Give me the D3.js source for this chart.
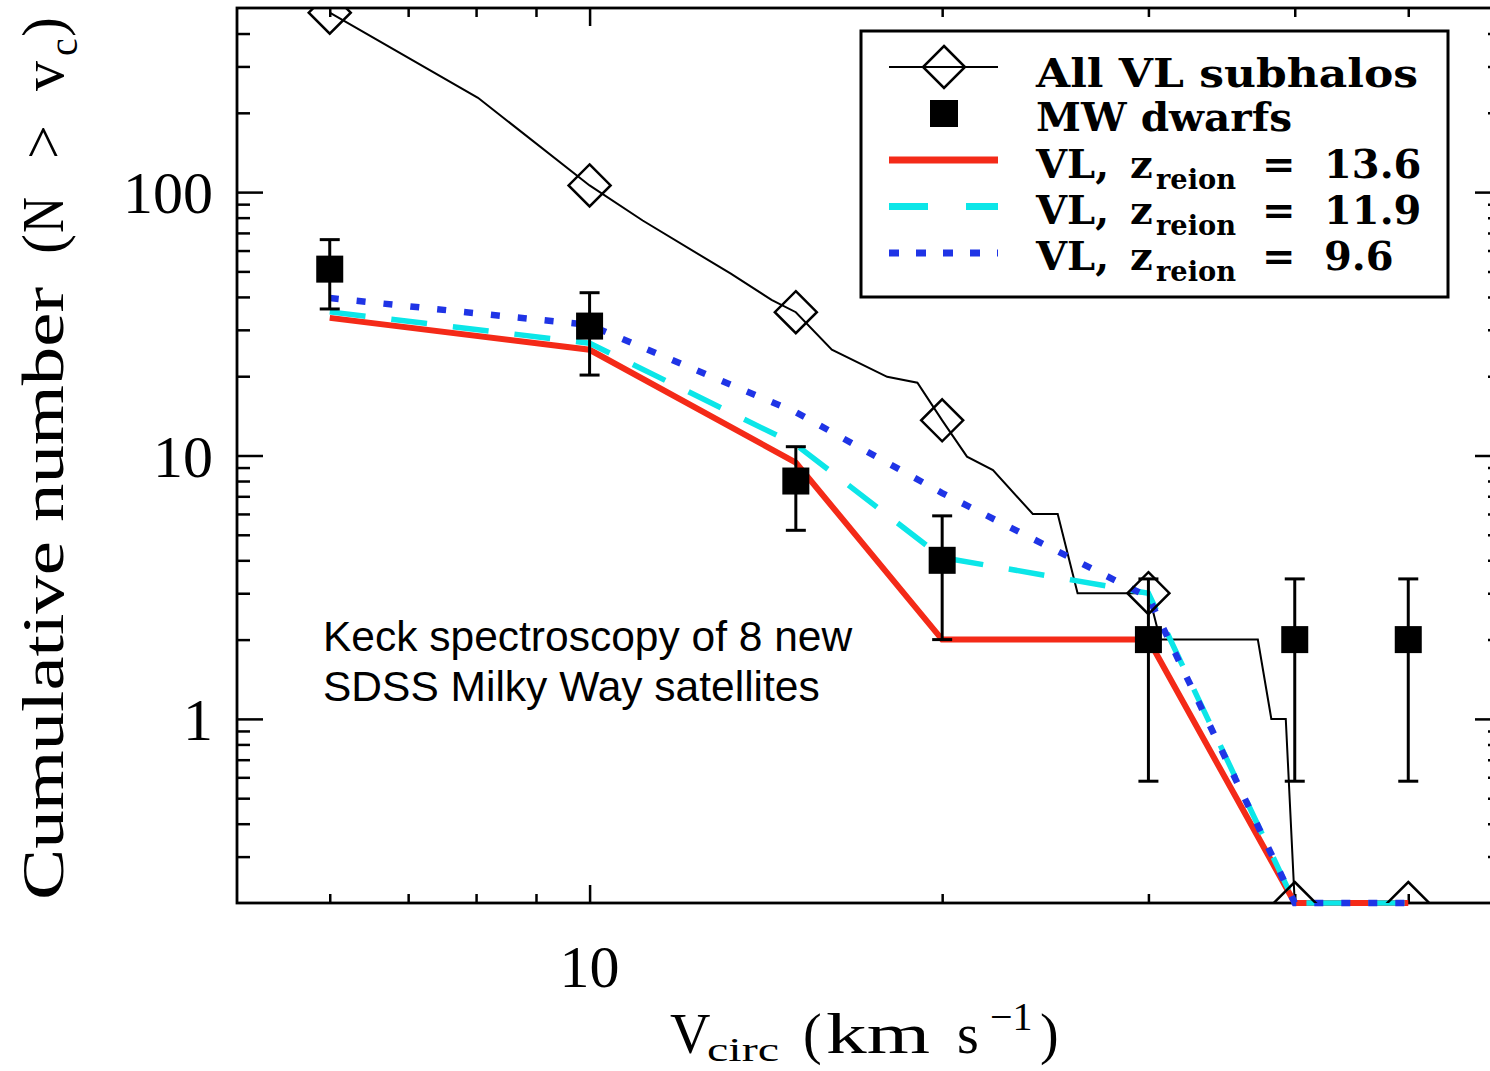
<!DOCTYPE html>
<html>
<head>
<meta charset="utf-8">
<script src="https://cdn.jsdelivr.net/npm/d3@7"></script>
<style>
  body { margin: 0; background: #fff; }
  svg { display: block; }
</style>
</head>
<body>
<svg id="chart"></svg>
<script>
// values
const vcirc = [6, 10, 15, 20, 30, 40, 50];
const allSubhalos = [480, 106, 35, 13.6, 3, 0, 0];
const subhaloCurveV = [6, 8.03, 10, 11.1, 13.2, 14.3, 15, 16.1, 17.95, 19.05, 20, 21, 22.1, 23.9, 25.1, 26.1, 28.7, 30, 30.7, 37.2, 38.2, 39.3, 40, 50];
const subhaloCurveN = [480, 228, 106, 78, 49, 39, 35, 25.2, 19.9, 18.9, 13.6, 9.9, 8.8, 6, 6, 3, 3, 3, 2, 2, 1, 1, 0, 0];
const mwDwarfs = [51, 31, 8, 4, 2, 2, 2];
const mwUpper = [66, 41.5, 10.8, 5.9, 3.4, 3.4, 3.4];
const mwLower = [36, 20.2, 5.2, 2.0, 0.58, 0.58, 0.58];
const zreion136 = [33.3, 25.2, 9.4, 2, 2, 0, 0];
const zreion119 = [35.1, 26.7, 11, 4.1, 3.0, 0, 0];
const zreion96 = [39.6, 31.3, 14.6, 7.2, 2.9, 0, 0];
const xTickLabels = [10];
const yTickLabels = [1, 10, 100];
const zreionLabels = ["13.6", "11.9", "9.6"];

const width = 1490, height = 1071;
const plotL = 237, plotR = 1501, plotT = 8, plotB = 903;

const svg = d3.select('#chart').attr('width', width).attr('height', height);

const x = d3.scaleLog().domain([5, 60]).range([plotL, plotR]);
const y = d3.scaleLog().domain([0.2, 500]).range([plotB, plotT]);
const yc = n => y(Math.max(n, 0.2)); // zero counts sit on the bottom axis

const serif = '"Liberation Serif", "Times New Roman", serif';
const legendFont = '"DejaVu Serif", serif';

// clip paths
const defs = svg.append('defs');
defs.append('clipPath').attr('id', 'clipLines')
  .append('rect').attr('x', plotL).attr('y', plotT).attr('width', plotR - plotL).attr('height', plotB - plotT + 4);
defs.append('clipPath').attr('id', 'clipMarks')
  .append('rect').attr('x', plotL).attr('y', plotT).attr('width', plotR - plotL).attr('height', plotB - plotT);

// ticks
const xMajor = [10];
const xMinor = x.ticks().filter(d => d !== 10 && d !== 5 && d !== 60);
const yMajor = [1, 10, 100];
const yMinor = y.ticks().filter(d => !yMajor.includes(d) && d > 0.2 && d < 500);

const tickStyle = g => {
  g.select('.domain').remove();
  g.selectAll('.tick line').attr('stroke', '#000').attr('stroke-width', 2.5);
  g.selectAll('.tick text').remove();
};

svg.append('g').attr('transform', `translate(0,${plotB})`)
  .call(d3.axisTop(x).tickValues(xMinor).tickSize(9)).call(tickStyle);
svg.append('g').attr('transform', `translate(0,${plotB})`)
  .call(d3.axisTop(x).tickValues(xMajor).tickSize(18)).call(tickStyle);
svg.append('g').attr('transform', `translate(0,${plotT})`)
  .call(d3.axisBottom(x).tickValues(xMinor).tickSize(9)).call(tickStyle);
svg.append('g').attr('transform', `translate(0,${plotT})`)
  .call(d3.axisBottom(x).tickValues(xMajor).tickSize(18)).call(tickStyle);
svg.append('g').attr('transform', `translate(${plotL},0)`)
  .call(d3.axisRight(y).tickValues(yMinor).tickSize(13)).call(tickStyle);
svg.append('g').attr('transform', `translate(${plotL},0)`)
  .call(d3.axisRight(y).tickValues(yMajor).tickSize(26)).call(tickStyle);
svg.append('g').attr('transform', `translate(${plotR},0)`)
  .call(d3.axisLeft(y).tickValues(yMinor).tickSize(13)).call(tickStyle);
svg.append('g').attr('transform', `translate(${plotR},0)`)
  .call(d3.axisLeft(y).tickValues(yMajor).tickSize(26)).call(tickStyle);

// frame
svg.append('rect')
  .attr('x', plotL).attr('y', plotT).attr('width', plotR - plotL).attr('height', plotB - plotT)
  .attr('fill', 'none').attr('stroke', '#000').attr('stroke-width', 2.8);

// tick labels
svg.append('g').selectAll('text').data(yTickLabels).join('text')
  .attr('x', 213).attr('y', d => y(d) + 21)
  .attr('text-anchor', 'end')
  .style('font-family', serif).style('font-size', '60px')
  .text(d => d);
svg.append('g').selectAll('text').data(xTickLabels).join('text')
  .attr('x', d => x(d)).attr('y', 987)
  .attr('text-anchor', 'middle')
  .style('font-family', serif).style('font-size', '60px')
  .text(d => d);

// x axis title
const xt = svg.append('g').style('font-family', serif).style('font-size', '56px');
xt.append('text').attr('x', 670).attr('y', 1053).text('V');
xt.append('text').attr('x', 707).attr('y', 1061).style('font-size', '34px').attr('textLength', 72).attr('lengthAdjust', 'spacingAndGlyphs').text('circ');
xt.append('text').attr('x', 803).attr('y', 1053).text('(');
xt.append('text').attr('x', 826).attr('y', 1053).attr('textLength', 104).attr('lengthAdjust', 'spacingAndGlyphs').text('km');
xt.append('text').attr('x', 957).attr('y', 1053).text('s');
xt.append('text').attr('x', 990).attr('y', 1030).style('font-size', '40px').text('\u22121');
xt.append('text').attr('x', 1040).attr('y', 1053).text(')');

// y axis title (rotated)
const yt = svg.append('g').attr('transform', 'translate(63,0) rotate(-90)')
  .style('font-family', serif).style('font-size', '60px');
yt.append('text').attr('x', -900).attr('y', 0).attr('textLength', 613).attr('lengthAdjust', 'spacingAndGlyphs').text('Cumulative number');
yt.append('text').attr('x', -254).attr('y', 0).text('(');
yt.append('text').attr('x', -233).attr('y', 0).attr('textLength', 36).attr('lengthAdjust', 'spacingAndGlyphs').text('N');
yt.append('text').attr('x', -159).attr('y', 0).text('>');
yt.append('text').attr('x', -91).attr('y', 0).text('v');
yt.append('text').attr('x', -56).attr('y', 14).style('font-size', '40px').text('c');
yt.append('text').attr('x', -37).attr('y', 0).text(')');

// all VL subhalos: curve + diamonds
const lineCurve = d3.line().x(d => x(d[0])).y(d => yc(d[1]));
const lines = svg.append('g').attr('clip-path', 'url(#clipLines)');
const marks = svg.append('g').attr('clip-path', 'url(#clipMarks)');

lines.append('path')
  .datum(d3.zip(subhaloCurveV, subhaloCurveN))
  .attr('d', lineCurve)
  .attr('fill', 'none').attr('stroke', '#000').attr('stroke-width', 2);

const diamond = (cx, cy, r) => `M${cx},${cy - r}L${cx + r},${cy}L${cx},${cy + r}L${cx - r},${cy}Z`;
marks.selectAll('.diamond').data(d3.zip(vcirc, allSubhalos)).join('path')
  .attr('class', 'diamond')
  .attr('d', d => diamond(x(d[0]), yc(d[1]), 21))
  .attr('fill', 'none').attr('stroke', '#000').attr('stroke-width', 2.5);

// MW dwarfs with error bars
const mw = vcirc.map((v, i) => ({ v, n: mwDwarfs[i], hi: mwUpper[i], lo: mwLower[i] }));
const eb = marks.append('g').attr('stroke', '#000').attr('stroke-width', 3);
eb.selectAll('.bar').data(mw).join('line').attr('class', 'bar')
  .attr('x1', d => x(d.v)).attr('x2', d => x(d.v))
  .attr('y1', d => y(d.hi)).attr('y2', d => y(d.lo));
eb.selectAll('.capHi').data(mw).join('line').attr('class', 'capHi')
  .attr('x1', d => x(d.v) - 10).attr('x2', d => x(d.v) + 10)
  .attr('y1', d => y(d.hi)).attr('y2', d => y(d.hi));
eb.selectAll('.capLo').data(mw).join('line').attr('class', 'capLo')
  .attr('x1', d => x(d.v) - 10).attr('x2', d => x(d.v) + 10)
  .attr('y1', d => y(d.lo)).attr('y2', d => y(d.lo));
marks.selectAll('.sq').data(mw).join('rect').attr('class', 'sq')
  .attr('x', d => x(d.v) - 13.5).attr('y', d => y(d.n) - 13.5)
  .attr('width', 27).attr('height', 27).attr('fill', '#000');

// reionization models
const series = [
  { vals: zreion136, color: '#f42a18', w: 6, dash: null },
  { vals: zreion119, color: '#0ce6e8', w: 5.5, dash: '36,26' },
  { vals: zreion96, color: '#1f34e6', w: 6.5, dash: '9,18' }
];
const modelLine = d3.line().x(d => x(d[0])).y(d => yc(d[1]));
series.forEach(s => {
  lines.append('path')
    .datum(d3.zip(vcirc, s.vals))
    .attr('d', modelLine)
    .attr('fill', 'none')
    .attr('stroke', s.color)
    .attr('stroke-width', s.w)
    .attr('stroke-dasharray', s.dash);
});

// annotation
const note = svg.append('g').style('font-family', '"Liberation Sans", Arial, sans-serif').style('font-size', '42.5px');
note.append('text').attr('x', 323).attr('y', 651).text('Keck spectroscopy of 8 new');
note.append('text').attr('x', 323).attr('y', 701).text('SDSS Milky Way satellites');

// legend
const lg = svg.append('g');
lg.append('rect').attr('x', 861).attr('y', 31).attr('width', 587).attr('height', 266)
  .attr('fill', '#fff').attr('stroke', '#000').attr('stroke-width', 3);

lg.append('line').attr('x1', 889).attr('x2', 998).attr('y1', 67).attr('y2', 67)
  .attr('stroke', '#000').attr('stroke-width', 2);
lg.append('path').attr('d', diamond(944, 67, 21)).attr('fill', 'none').attr('stroke', '#000').attr('stroke-width', 2.5);
lg.append('rect').attr('x', 930).attr('y', 100).attr('width', 28).attr('height', 27).attr('fill', '#000');
series.forEach((s, i) => {
  lg.append('line').attr('x1', 889).attr('x2', 998).attr('y1', 160 + i * 46.5).attr('y2', 160 + i * 46.5)
    .attr('stroke', s.color).attr('stroke-width', 7)
    .attr('stroke-dasharray', i === 1 ? '39,38' : i === 2 ? '10,17' : null);
});

const lt = lg.append('g').style('font-family', legendFont).style('font-weight', 'bold').style('font-size', '40px');
lt.append('text').attr('x', 1036).attr('y', 87).attr('textLength', 382).attr('lengthAdjust', 'spacingAndGlyphs').text('All VL subhalos');
lt.append('text').attr('x', 1036).attr('y', 131).attr('textLength', 256).attr('lengthAdjust', 'spacingAndGlyphs').text('MW dwarfs');
zreionLabels.forEach((z, i) => {
  const by = 178 + i * 46;
  lt.append('text').attr('x', 1036).attr('y', by).text('VL,');
  lt.append('text').attr('x', 1130).attr('y', by).text('z');
  lt.append('text').attr('x', 1156).attr('y', by + 11).style('font-size', '27px').attr('textLength', 80).attr('lengthAdjust', 'spacingAndGlyphs').text('reion');
  lt.append('text').attr('x', 1262).attr('y', by).text('=');
  lt.append('text').attr('x', 1324).attr('y', by).text(z);
});
</script>
</body>
</html>
